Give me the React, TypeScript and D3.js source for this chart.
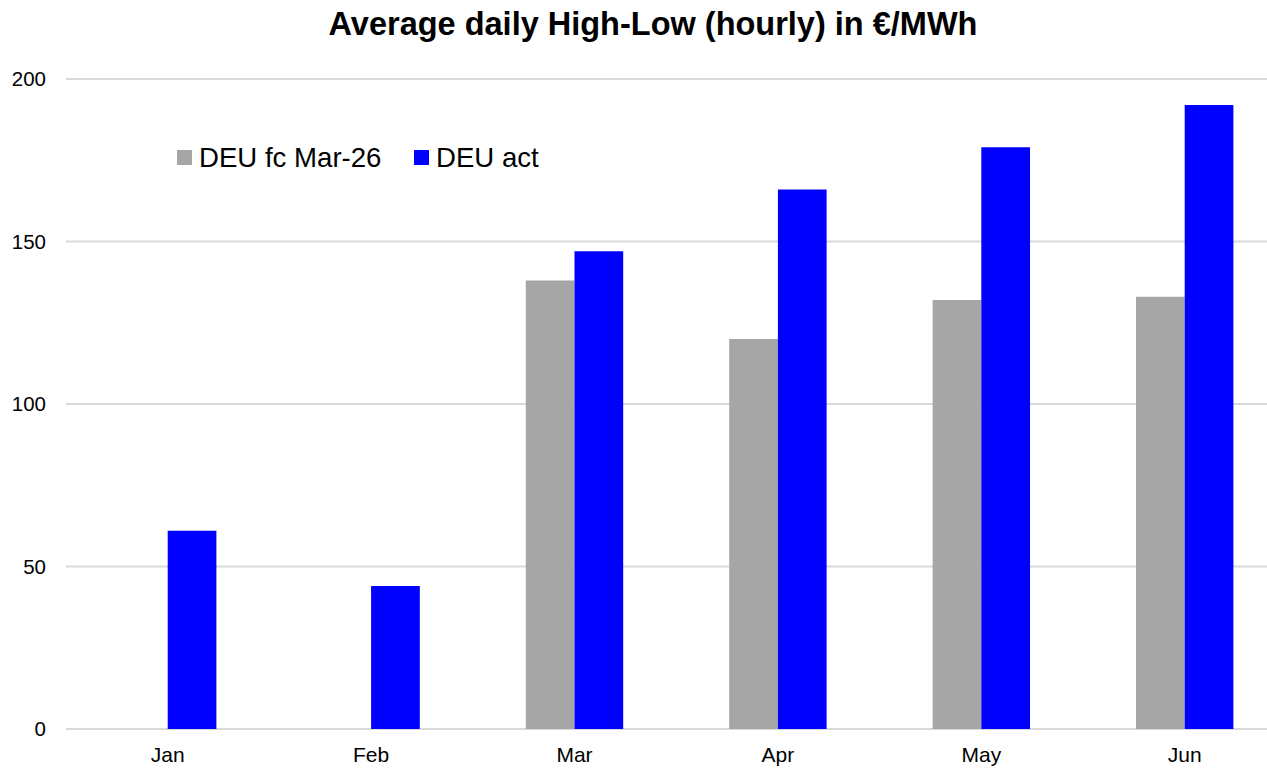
import React from "react";
import * as d3 from "d3";

const months = ["Jan", "Feb", "Mar", "Apr", "May", "Jun"];
const seriesNames = ["DEU fc Mar-26", "DEU act"];
const fcValues: (number | null)[] = [null, null, 138, 120, 132, 133];
const actValues: (number | null)[] = [61, 44, 147, 166, 179, 192];
const yTicks = [0, 50, 100, 150, 200];
const colors = ["#a6a6a6", "#0000ff"];

const W = 1267;
const H = 768;

export default function App() {
  React.useEffect(() => {
    document.body.style.margin = "0";
  }, []);

  const x = d3.scaleBand<string>().domain(months).range([66, 66 + 6 * 203.4]).padding(0);
  const groupW = 97.4;
  const x1 = d3.scaleBand<string>().domain(seriesNames).range([0, groupW]).padding(0);
  const y = d3.scaleLinear().domain([0, 200]).range([729, 79]);
  const font = "Liberation Sans, Arial, Helvetica, sans-serif";
  const series = [fcValues, actValues];

  return (
    <svg width={W} height={H} style={{ position: "absolute", left: 0, top: 0, display: "block", background: "#fff" }} fontFamily={font}>
      <text x={653} y={35} textAnchor="middle" fontSize={32.5} fontWeight="bold" fill="#000">
        Average daily High-Low (hourly) in €/MWh
      </text>
      {yTicks.map((t) => (
        <g key={t}>
          <line x1={66} x2={W} y1={y(t)} y2={y(t)} stroke="#d9d9d9" strokeWidth={2} />
          <text x={46} y={y(t)} dy="0.36em" textAnchor="end" fontSize={20.5} fill="#000">
            {t}
          </text>
        </g>
      ))}
      {months.map((m, i) => {
        const cx = (x(m) as number) + x.bandwidth() / 2;
        return (
          <g key={m}>
            {series.map((vals, s) => {
              const v = vals[i];
              if (v == null) return null;
              const bx = cx - groupW / 2 + (x1(seriesNames[s]) as number);
              return (
                <rect key={s} x={bx} y={y(v)} width={x1.bandwidth()} height={y(0) - y(v)} fill={colors[s]} />
              );
            })}
            <text x={cx} y={762} textAnchor="middle" fontSize={21} fill="#000">
              {m}
            </text>
          </g>
        );
      })}
      {seriesNames.map((n, s) => {
        const lx = [177, 414][s];
        return (
          <g key={n}>
            <rect x={lx} y={150} width={15} height={15} fill={colors[s]} />
            <text x={lx + 22} y={167} fontSize={27.6} fill="#000">
              {n}
            </text>
          </g>
        );
      })}
    </svg>
  );
}
